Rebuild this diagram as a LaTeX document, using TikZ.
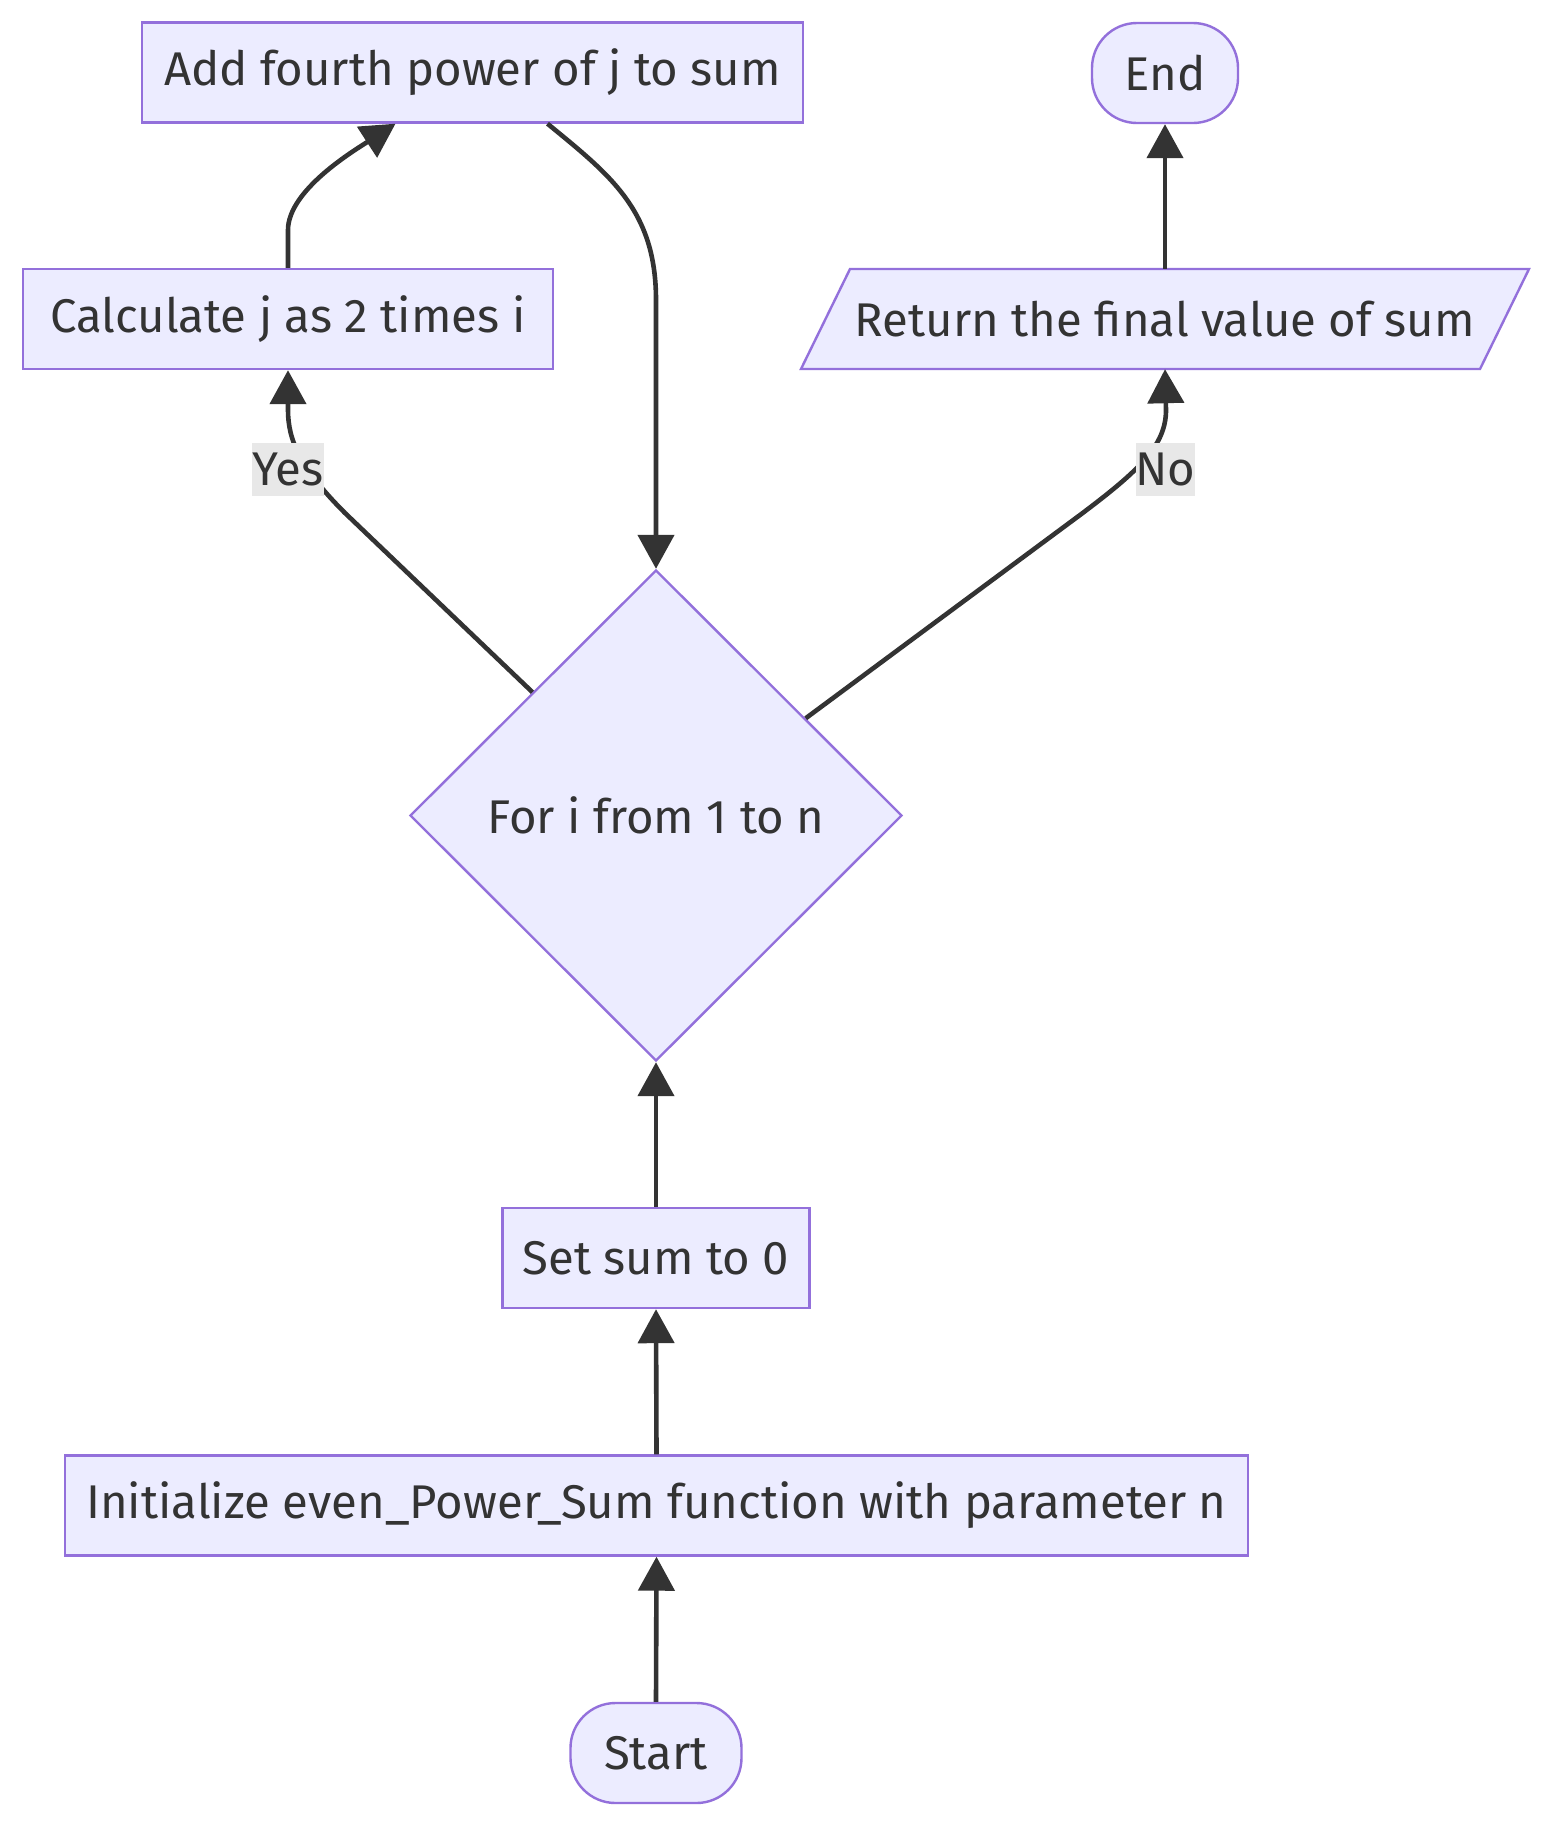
\documentclass[tikz,border=0pt]{standalone}
\usepackage{fontspec}
\setmainfont{Fira Sans}
\usetikzlibrary{arrows.meta,shapes.geometric,calc}
\definecolor{nodefill}{HTML}{ECECFF}
\definecolor{nodeline}{HTML}{9370DB}
\definecolor{ink}{HTML}{333333}
\definecolor{lblbg}{HTML}{E8E8E8}
\begin{document}
\begin{tikzpicture}[x=1pt,y=-1pt,
  every node/.style={font=\fontsize{47.3}{56}\selectfont, text=ink},
  box/.style={draw=nodeline, fill=nodefill, line width=2.4pt, inner sep=0pt, minimum height=100pt},
  term/.style={box, rounded corners=45pt},
  decision/.style={box, diamond, minimum width=492pt, minimum height=491pt},
  edge/.style={draw=ink, line width=4.6pt, -{Triangle[length=34pt,width=36pt]}},
  lbl/.style={fill=lblbg, inner xsep=0pt, inner ysep=0pt, minimum height=53pt},
]
\fill[white] (0,0) rectangle (1568,1842);
\useasboundingbox (0,0) rectangle (1568,1842);

% nodes
\node[box, minimum width=661pt] (add) at (472.5,72.5) {Add fourth power of j to sum};
\node[term, minimum width=146pt] (endn) at (1165,73) {End};
\node[box, minimum width=530pt] (calc) at (288,319) {Calculate j as 2 times i};
\filldraw[draw=nodeline, fill=nodefill, line width=2.4pt] (801,369) -- (850,269) -- (1529,269) -- (1480,369) -- cycle;
\node[inner sep=0pt, minimum width=728pt, minimum height=100pt] (ret) at (1165,319) {Return the final value of sum};
\node[decision] (dia) at (656,815.5) {For i from 1 to n};
\node[box, minimum width=307pt] (set) at (656,1258) {Set sum to 0};
\node[box, minimum width=1183pt] (init) at (656.5,1505.5) {Initialize even\_Power\_Sum function with parameter n};
\node[term, minimum width=171pt] (start) at (656,1753) {Start};

% bend points
\coordinate (y1) at (345,513);
\coordinate (y2) at (288,410);
\coordinate (c1) at (288,230);
\coordinate (n1) at (1080,515);
\coordinate (n2) at (1166,410);
\coordinate (r1) at (656,300);

% edges
\draw[edge] (start.north) -- (init.south);
\draw[edge] (init.north) -- (set.south);
\draw[edge] (set.north) -- (dia.south);
\draw[edge] (dia.north west) -- (y1) .. controls (300,468) and (288,440) .. (y2) -- (calc.south);
\draw[edge] (calc.north) -- (c1) .. controls (288,190) and (355,150) .. ($(add.south)+(-77,0)$);
\draw[edge] ($(add.south)+(75,0)$) .. controls (610,175) and (656,210) .. (r1) -- (dia.north);
\draw[edge] (dia.33) -- (n1) .. controls (1140,470) and (1166,445) .. (n2) -- (ret.south);
\draw[edge] (ret.north) -- (endn.south);

% labels
\node[lbl] (yes) at (288,469.5) {Yes};
\node[lbl] (no) at (1165.5,469.5) {No};
\end{tikzpicture}
\end{document}
